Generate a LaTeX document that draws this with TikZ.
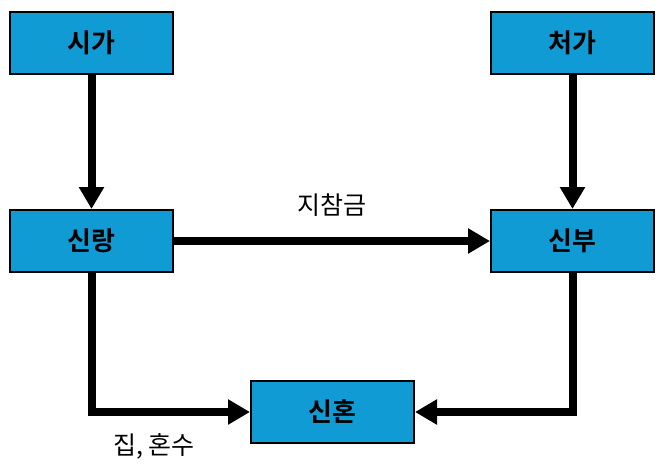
\documentclass[tikz,border=0pt]{standalone}
\usepackage{fontspec}
\setmainfont{Noto Sans CJK KR}[BoldFont={* Bold}]
\usetikzlibrary{arrows.meta}
\definecolor{boxblue}{HTML}{109BD5}
\begin{document}
\begin{tikzpicture}[x=1pt,y=-1pt,
  box/.style={draw=black,line width=2pt,fill=boxblue,minimum width=163pt,minimum height=62pt,inner sep=0pt,font=\bfseries\fontsize{26}{30}\selectfont},
  flow/.style={line width=8pt,-{Triangle[width=24pt,length=22pt]}},
  lbl/.style={font=\fontsize{25}{30}\selectfont,inner sep=0pt}]
\useasboundingbox (0,0) rectangle (668,469);
\node[box] (sg) at (91.5,43) {시가};
\node[box] (cg) at (572.5,43) {처가};
\node[box] (sr) at (91.5,241) {신랑};
\node[box] (sb) at (572.5,241) {신부};
\node[box] (sh) at (332.5,412) {신혼};
\draw[flow] (sg.south) -- (sr.north);
\draw[flow] (cg.south) -- (sb.north);
\draw[flow] (sr.east) -- (sb.west);
\draw[flow] (sr.south) |- (sh.west);
\draw[flow] (sb.south) |- (sh.east);
\node[lbl] (l1) at (332,205) {지참금};
\node[lbl] (l2) at (154,446) {집, 혼수};
\end{tikzpicture}
\end{document}
